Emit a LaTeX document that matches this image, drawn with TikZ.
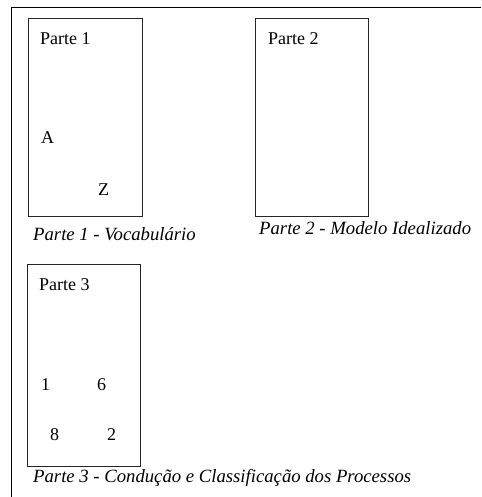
\documentclass[tikz,border=0pt]{standalone}
\usepackage{fontspec}
\setmainfont{Liberation Serif}
\begin{document}
\begin{tikzpicture}[x=1pt,y=-1pt,
  panel/.style={draw=black!85, line width=1pt, anchor=north west, inner sep=0pt},
  label/.style={anchor=base west, inner sep=0pt, font=\fontsize{18}{20}\selectfont},
  caption/.style={anchor=base west, inner sep=0pt, font=\fontsize{18.7}{21}\selectfont\itshape}]
  \useasboundingbox (0,0) rectangle (481,497);
  % outer frame (only top and left edges fall inside the page)
  \coordinate (fb) at (11.5,497);
  \coordinate (fc) at (11.5,7.5);
  \coordinate (fr) at (481,7.5);
  \draw[line width=1.6pt] (fb) -- (fc) -- (fr);

  % panel 1
  \node[panel, minimum width=114pt, minimum height=198pt] (p1) at (28,18) {};
  \node[label] (p1t) at (40,45) {Parte 1};
  \node[label] (pa) at (41,143) {A};
  \node[label] (pz) at (98,195) {Z};
  \node[caption] (c1) at (33,240) {Parte 1 - Vocabulário};

  % panel 2
  \node[panel, minimum width=113pt, minimum height=198pt] (p2) at (255,18) {};
  \node[label] (p2t) at (268,45) {Parte 2};
  \node[caption] (c2) at (259,234) {Parte 2 - Modelo Idealizado};

  % panel 3
  \node[panel, minimum width=113pt, minimum height=202pt] (p3) at (27,264) {};
  \node[label] (p3t) at (39,290) {Parte 3};
  \node[label] (n1) at (41,390) {1};
  \node[label] (n6) at (97,390) {6};
  \node[label] (n8) at (50,440) {8};
  \node[label] (n2) at (107,440) {2};
  \node[caption] (c3) at (33,482) {Parte 3 - Condução e Classificação dos Processos};
\end{tikzpicture}
\end{document}
